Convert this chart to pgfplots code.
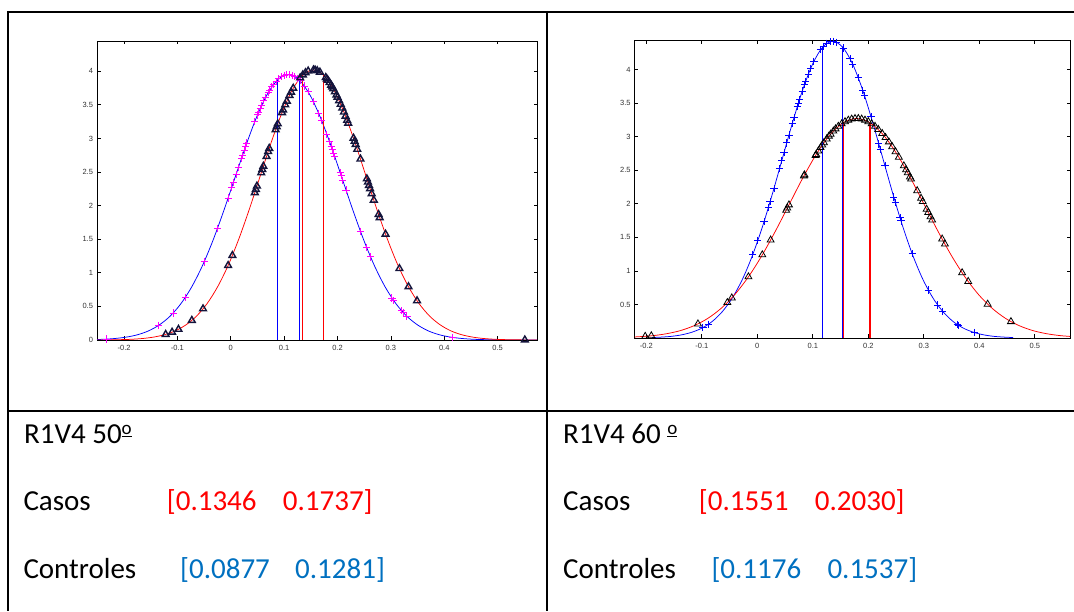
\documentclass[border=0pt]{standalone}
\usepackage{fontspec}
\setmainfont{Carlito}
\newfontfamily\tickfont{Liberation Sans}
\usepackage{pgfplots}
\pgfplotsset{compat=1.18}

\definecolor{txtred}{RGB}{255,0,0}
\definecolor{txtblue}{RGB}{0,112,192}
\definecolor{mred}{RGB}{255,0,0}
\definecolor{mblue}{RGB}{0,0,255}
\definecolor{mmag}{RGB}{255,0,255}
\definecolor{tri}{RGB}{20,20,60}

\pgfplotsset{
  mlab/.style={
    scale only axis,
    anchor=south west,
    axis line style={black, line width=0.8pt},
    tick align=inside,
    xtick pos=both, ytick pos=both,
    major tick length=3.5pt,
    tick style={black, line width=0.7pt},
    tick label style={font=\tickfont\fontsize{7.5}{8}\selectfont, text=black!80},
    /pgf/number format/assume math mode=true,
    xtick={-0.2,-0.1,0,0.1,0.2,0.3,0.4,0.5},
    xticklabel style={yshift=-1.5pt},
    yticklabel style={xshift=-0.5pt},
    ymin=0,
  },
  curve/.style={line width=0.75pt, smooth},
  vline/.style={line width=1.3pt},
}

\newcommand{\cell}{\fontsize{29}{34}\selectfont}
% ordinal sign drawn as an underlined raised o
\newcommand{\ordo}{\raisebox{8.6pt}{\fontsize{19}{19}\selectfont\underline{o}}}

\begin{document}
\begin{tikzpicture}[x=1pt,y=1pt]
\useasboundingbox (0,0) rectangle (1074,611);

% table rules
\draw[line width=2pt] (7,599) -- (1074,599);
\draw[line width=2pt] (7,199.5) -- (1074,199.5);
\draw[line width=2pt] (8,600) -- (8,0);
\draw[line width=2pt] (546.8,600) -- (546.8,0);

% ---------------- left plot: R1V4 50
\begin{axis}[mlab,
  at={(97pt,271pt)}, width=440pt, height=299pt,
  xmin=-0.2507, xmax=0.5738, ymax=4.45,
  ytick={0,0.5,1,1.5,2,2.5,3,3.5,4},
]
\addplot[curve, color=mblue] coordinates {
 (-0.2556,0.006) (-0.2354,0.012) (-0.2152,0.024) (-0.195,0.044) (-0.1748,0.078)
 (-0.1546,0.134) (-0.1344,0.222) (-0.1142,0.351) (-0.094,0.535) (-0.0738,0.782)
 (-0.0536,1.098) (-0.0334,1.482) (-0.0132,1.923) (0.007,2.396) (0.0272,2.868)
 (0.0474,3.299) (0.0676,3.646) (0.0878,3.872) (0.108,3.950) (0.1282,3.872)
 (0.1484,3.646) (0.1686,3.299) (0.1888,2.868) (0.209,2.396) (0.2292,1.923)
 (0.2494,1.482) (0.2696,1.098) (0.2898,0.782) (0.31,0.535) (0.3302,0.351)
 (0.3504,0.222) (0.3706,0.134) (0.3908,0.078) (0.411,0.044) (0.4312,0.024)
 (0.4514,0.012) (0.4716,0.006) (0.4918,0.003) (0.512,0.001) (0.5322,0.0006)
 (0.5524,0.0002) (0.5726,0.0001) (0.5928,0.0)
};
\addplot[curve, color=mred] coordinates {
 (-0.2624,0.0003) (-0.2426,0.0013) (-0.2228,0.003) (-0.2029,0.006) (-0.1831,0.012)
 (-0.1632,0.024) (-0.1434,0.045) (-0.1236,0.080) (-0.1037,0.137) (-0.0839,0.226)
 (-0.0640,0.357) (-0.0442,0.544) (-0.0244,0.796) (-0.0045,1.118) (0.0153,1.509)
 (0.0352,1.957) (0.0550,2.438) (0.0748,2.919) (0.0947,3.358) (0.1145,3.711)
 (0.1344,3.940) (0.1542,4.020) (0.1740,3.940) (0.1939,3.711) (0.2137,3.358)
 (0.2336,2.919) (0.2534,2.438) (0.2732,1.957) (0.2931,1.509) (0.3129,1.118)
 (0.3328,0.796) (0.3526,0.544) (0.3724,0.357) (0.3923,0.226) (0.4121,0.137)
 (0.4320,0.080) (0.4518,0.045) (0.4716,0.024) (0.4915,0.012) (0.5113,0.006)
 (0.5312,0.003) (0.5510,0.0013) (0.5708,0.0006) (0.5907,0.0003)
};
% controles
\addplot[only marks, mark=+, mark size=3.6pt, mmag, mark options={line width=1pt}] coordinates {
 (-0.232,0.014) (-0.135,0.219) (-0.108,0.401) (-0.085,0.636) (-0.05,1.162)
 (-0.025,1.659) (-0.005,2.112) (0.002,2.277) (0.005,2.348) (0.01,2.467)
 (0.014,2.562) (0.02,2.702) (0.022,2.749) (0.025,2.818) (0.028,2.887)
 (0.03,2.931) (0.045,3.252) (0.05,3.349) (0.052,3.387) (0.055,3.442)
 (0.058,3.495) (0.062,3.561) (0.065,3.608) (0.07,3.680) (0.073,3.720)
 (0.077,3.768) (0.08,3.801) (0.085,3.849) (0.09,3.888) (0.095,3.917)
 (0.1,3.938) (0.105,3.948) (0.11,3.949) (0.115,3.941) (0.12,3.922)
 (0.125,3.894) (0.13,3.857) (0.138,3.780) (0.145,3.694) (0.155,3.545)
 (0.165,3.367) (0.17,3.272) (0.18,3.062) (0.185,2.952) (0.188,2.887)
 (0.19,2.841) (0.193,2.772) (0.195,2.726) (0.205,2.494) (0.207,2.447)
 (0.21,2.373) (0.216,2.231) (0.243,1.620) (0.255,1.372) (0.262,1.236)
 (0.302,0.624) (0.305,0.589) (0.32,0.436) (0.323,0.411) (0.33,0.353)
 (0.415,0.039)
};
% casos
\addplot[only marks, mark=triangle, mark size=3.9pt, tri, mark options={line width=1.4pt}] coordinates {
 (-0.122,0.083) (-0.11,0.116) (-0.098,0.159) (-0.073,0.292) (-0.052,0.464)
 (-0.005,1.109) (0.003,1.258) (0.045,2.193) (0.047,2.242) (0.049,2.291)
 (0.057,2.488) (0.059,2.537) (0.061,2.586) (0.067,2.732) (0.07,2.804)
 (0.072,2.852) (0.084,3.130) (0.086,3.174) (0.088,3.217) (0.096,3.384)
 (0.098,3.424) (0.102,3.500) (0.105,3.555) (0.11,3.640) (0.113,3.688)
 (0.117,3.747) (0.13,3.902) (0.135,3.946) (0.14,3.979) (0.145,4.003)
 (0.155,4.020) (0.158,4.017) (0.162,4.008) (0.167,3.987) (0.178,3.906)
 (0.18,3.886) (0.182,3.865) (0.185,3.831) (0.188,3.793) (0.19,3.767)
 (0.192,3.739) (0.195,3.694) (0.198,3.647) (0.2,3.614) (0.203,3.562)
 (0.206,3.508) (0.209,3.452) (0.212,3.392) (0.215,3.331) (0.218,3.270)
 (0.22,3.227) (0.23,3.004) (0.232,2.957) (0.234,2.910) (0.237,2.838)
 (0.243,2.693) (0.255,2.399) (0.257,2.350) (0.259,2.301) (0.261,2.252)
 (0.264,2.178) (0.268,2.082) (0.277,1.868) (0.279,1.821) (0.29,1.575)
 (0.316,1.063) (0.333,0.793) (0.349,0.584) (0.551,0.0013)
};
\addplot[vline, color=mblue] coordinates {(0.0877,0) (0.0877,3.872)};
\addplot[vline, color=mblue] coordinates {(0.1281,0) (0.1281,3.872)};
\addplot[vline, color=mred] coordinates {(0.1346,0) (0.1346,3.942)};
\addplot[vline, color=mred] coordinates {(0.1737,0) (0.1737,3.942)};
\end{axis}

% ---------------- right plot: R1V4 60
\begin{axis}[mlab,
  at={(634.6pt,273pt)}, width=435.4pt, height=297.4pt,
  xmin=-0.2211, xmax=0.5634, ymax=4.43,
  ytick={0.5,1,1.5,2,2.5,3,3.5,4},
]
\addplot[curve, color=mblue] coordinates {
 (-0.1894,0.007) (-0.1713,0.014) (-0.1533,0.026) (-0.1352,0.049) (-0.1171,0.088)
 (-0.0991,0.150) (-0.0810,0.248) (-0.0630,0.393) (-0.0449,0.598) (-0.0268,0.875)
 (-0.0088,1.229) (0.0093,1.659) (0.0273,2.151) (0.0454,2.681) (0.0635,3.210)
 (0.0815,3.692) (0.0996,4.080) (0.1176,4.332) (0.1357,4.420) (0.1538,4.332)
 (0.1718,4.080) (0.1899,3.692) (0.2079,3.210) (0.2260,2.681) (0.2441,2.151)
 (0.2621,1.659) (0.2802,1.229) (0.2982,0.875) (0.3163,0.598) (0.3344,0.393)
 (0.3524,0.248) (0.3705,0.150) (0.3885,0.088) (0.4066,0.049) (0.4247,0.026)
 (0.4427,0.014) (0.4608,0.007)
};
\addplot[curve, color=mred] coordinates {
 (-0.2358,0.010) (-0.2114,0.020) (-0.1870,0.036) (-0.1626,0.065) (-0.1382,0.111)
 (-0.1138,0.184) (-0.0894,0.291) (-0.0650,0.443) (-0.0406,0.647) (-0.0162,0.909)
 (0.0082,1.227) (0.0326,1.592) (0.0570,1.983) (0.0814,2.375) (0.1058,2.731)
 (0.1302,3.019) (0.1546,3.205) (0.1790,3.270) (0.2034,3.205) (0.2278,3.019)
 (0.2522,2.731) (0.2766,2.375) (0.3010,1.983) (0.3254,1.592) (0.3498,1.227)
 (0.3742,0.909) (0.3986,0.647) (0.4230,0.443) (0.4474,0.291) (0.4718,0.184)
 (0.4962,0.111) (0.5206,0.065) (0.5450,0.036) (0.5694,0.020)
};
% controles
\addplot[only marks, mark=+, mark size=3.6pt, mblue, mark options={line width=0.9pt}] coordinates {
 (-0.098,0.155) (-0.088,0.205) (-0.008,1.246) (0.001,1.453) (0.012,1.730)
 (0.02,1.945) (0.023,2.028) (0.03,2.228) (0.04,2.521) (0.044,2.640)
 (0.048,2.758) (0.053,2.906) (0.057,3.023) (0.063,3.197) (0.066,3.281)
 (0.072,3.446) (0.074,3.500) (0.076,3.552) (0.081,3.679) (0.085,3.776)
 (0.087,3.822) (0.092,3.932) (0.096,4.013) (0.102,4.122) (0.114,4.294)
 (0.119,4.345) (0.125,4.389) (0.131,4.414) (0.137,4.420) (0.143,4.405)
 (0.155,4.320) (0.167,4.162) (0.172,4.077) (0.182,3.876) (0.19,3.689)
 (0.193,3.614) (0.205,3.294) (0.219,2.891) (0.222,2.802) (0.23,2.569)
 (0.246,2.099) (0.249,2.015) (0.257,1.797) (0.259,1.744) (0.279,1.256)
 (0.308,0.715) (0.325,0.491) (0.334,0.396) (0.36,0.202) (0.363,0.186)
 (0.391,0.081)
};
% casos
\addplot[only marks, mark=triangle, mark size=4pt, black, mark options={line width=0.8pt}] coordinates {
 (-0.202,0.025) (-0.191,0.033) (-0.107,0.210) (-0.054,0.528) (-0.046,0.597)
 (-0.016,0.912) (0.009,1.239) (0.024,1.459) (0.052,1.902) (0.054,1.935)
 (0.057,1.983) (0.084,2.415) (0.085,2.430) (0.105,2.720) (0.106,2.734)
 (0.11,2.786) (0.114,2.837) (0.117,2.874) (0.12,2.909) (0.125,2.965)
 (0.129,3.007) (0.132,3.036) (0.137,3.082) (0.141,3.115) (0.146,3.153)
 (0.152,3.191) (0.158,3.222) (0.164,3.245) (0.17,3.261) (0.176,3.269)
 (0.182,3.269) (0.188,3.261) (0.194,3.245) (0.2,3.222) (0.206,3.191)
 (0.212,3.153) (0.218,3.107) (0.225,3.046) (0.231,2.986) (0.237,2.921)
 (0.243,2.850) (0.249,2.774) (0.255,2.693) (0.264,2.565) (0.268,2.506)
 (0.271,2.461) (0.275,2.399) (0.277,2.368) (0.288,2.194) (0.295,2.081)
 (0.298,2.032) (0.305,1.918) (0.308,1.870) (0.312,1.805) (0.315,1.757)
 (0.333,1.474) (0.338,1.399) (0.369,0.972) (0.38,0.842) (0.415,0.504)
 (0.457,0.244)
};
\addplot[vline, color=mblue] coordinates {(0.1176,0) (0.1176,4.332)};
\addplot[vline, color=mblue] coordinates {(0.1537,0) (0.1537,4.332)};
\addplot[vline, color=mred] coordinates {(0.1551,0) (0.1551,3.208)};
\addplot[vline, color=mred] coordinates {(0.2030,0) (0.2030,3.208)};
\end{axis}

% ---------------- cell texts
\begin{scope}[every node/.style={anchor=base west, inner sep=0pt, font=\cell}]
\node at (24,167.7) {R1V4 50\ordo};
\node at (23.3,101) {Casos};
\node[text=txtred] at (166.7,101) {[0.1346};
\node[text=txtred] at (282.7,101) {0.1737]};
\node at (23.3,32.7) {Controles};
\node[text=txtblue] at (180,32.7) {[0.0877};
\node[text=txtblue] at (295,32.7) {0.1281]};

\node at (563,167.7) {R1V4 60 \ordo};
\node at (563,101) {Casos};
\node[text=txtred] at (698.7,101) {[0.1551};
\node[text=txtred] at (814.7,101) {0.2030]};
\node at (563,32.7) {Controles};
\node[text=txtblue] at (711.3,32.7) {[0.1176};
\node[text=txtblue] at (827.3,32.7) {0.1537]};
\end{scope}
\end{tikzpicture}
\end{document}
